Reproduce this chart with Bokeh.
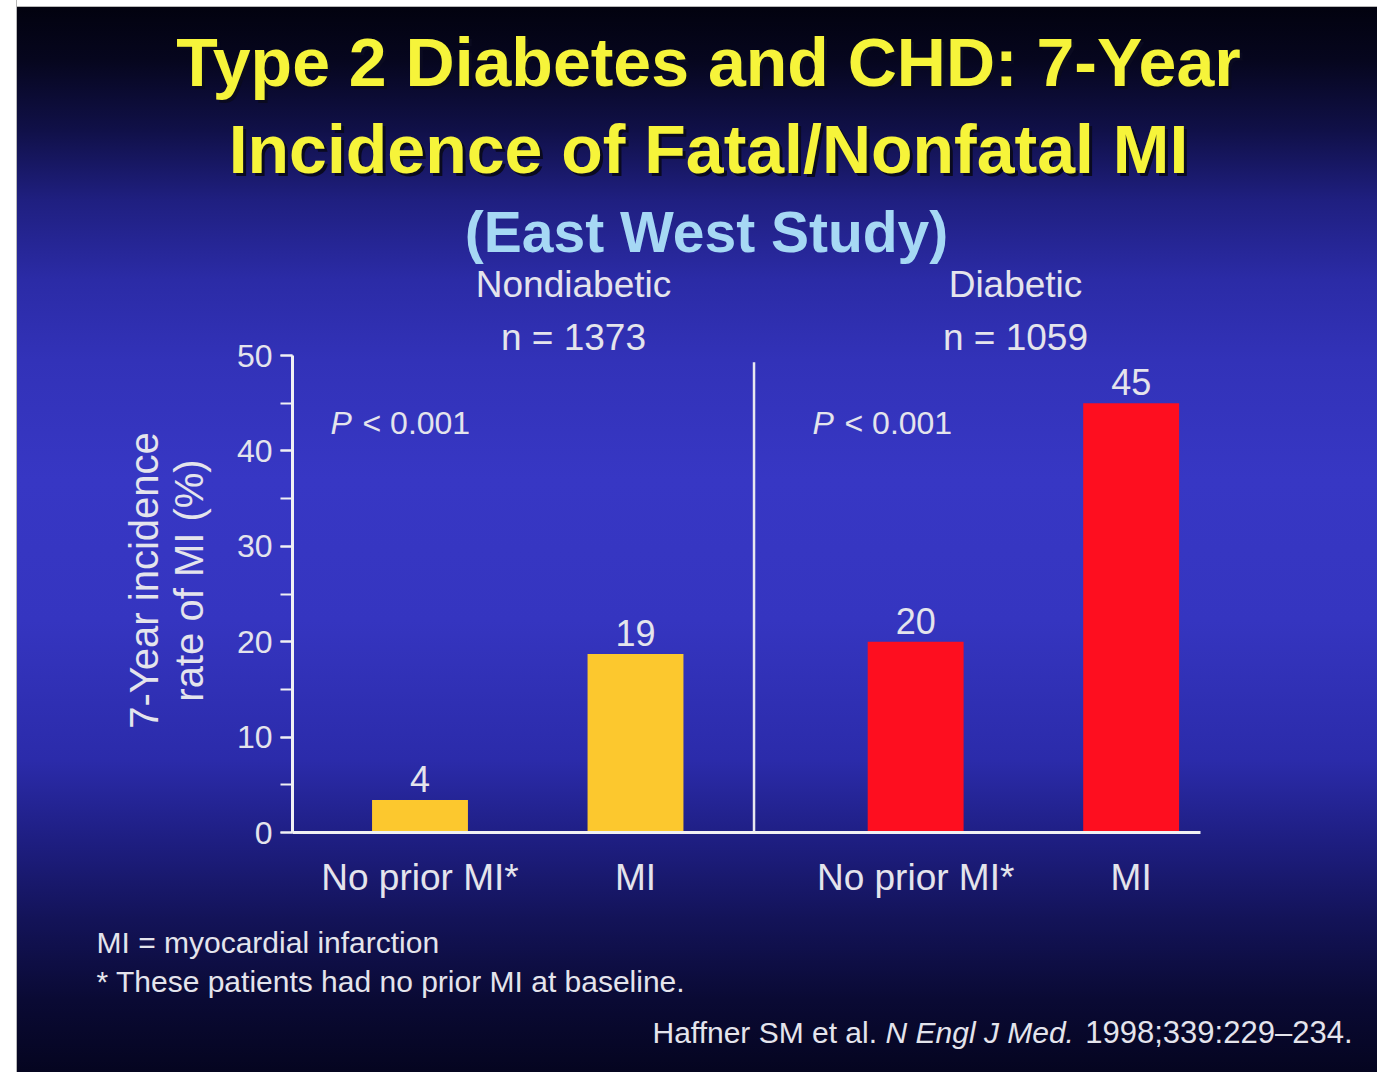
import numpy as np
from bokeh.plotting import figure
from bokeh.models import Range1d, SingleIntervalTicker, FixedTicker, LinearAxis, Label
from bokeh.embed import file_html
from bokeh.resources import INLINE
from bokeh.core.properties import value

# ---------------- data ----------------
groups = ["Nondiabetic", "Diabetic"]
group_n = ["n = 1373", "n = 1059"]
categories = ["No prior MI*", "MI"]
incidence = [3.4, 18.7, 20.0, 45.0]          # bar heights as drawn
incidence_labels = ["4", "19", "20", "45"]   # printed values
bar_colors = ["#fcc82e", "#fcc82e", "#fe0e1f", "#fe0e1f"]
p_text = ["< 0.001", "< 0.001"]

title_lines = ["Type 2 Diabetes and CHD: 7-Year", "Incidence of Fatal/Nonfatal MI"]
subtitle = "(East West Study)"
y_title = ["7-Year incidence", "rate of MI (%)"]
footnotes = ["MI = myocardial infarction", "* These patients had no prior MI at baseline."]
citation = ["Haffner SM et al.", "N Engl J Med.", "1998;339:229\u2013234."]

# ---------------- layout ----------------
FONT = "Liberation Sans"
TXT = "#e4e4ec"
W, H = 1377, 1072
Y_MAX = 50

CAT_STEP, GROUP_GAP, BAR_W = 1.0, 1.3, 0.445
n_cat = len(categories)
group_step = CAT_STEP * (n_cat - 1) + GROUP_GAP
x_pos = [gi * group_step + ci * CAT_STEP for gi in range(len(groups)) for ci in range(n_cat)]

# calibration of the scales on the canvas
U = 215.5        # px per x unit
X0_PX = 419.5    # canvas px of x = 0
KY = 9.54        # px per y unit
Y0_PX = 832.0    # canvas px of y = 0


def xd(px):
    return (px - X0_PX) / U


def yd(py):
    return (Y0_PX - py) / KY


x_range = Range1d(xd(0), xd(W))
y_range = Range1d(yd(H), yd(0))

p = figure(x_range=x_range, y_range=y_range, width=W, height=H,
           x_axis_type=None, y_axis_type=None,
           min_border_left=0, min_border_right=0, min_border_top=0, min_border_bottom=0,
           output_backend="svg", toolbar_location=None, title=None)

p.background_fill_color = None
p.border_fill_color = None
p.outline_line_color = None
p.grid.visible = False

grad = ("linear-gradient(to bottom, #02020f 7px, #06061e 60px, #101048 130px, #1f1f80 200px, "
        "#2b2ba6 280px, #3232b8 360px, #3737c4 480px, #3535c0 620px, #2b2baa 760px, "
        "#1e1e82 840px, #131358 920px, #0a0a34 1000px, #050520 1072px)")
edge_l = "linear-gradient(to right, #ffffff 0px, #ffffff 16px, #b8b8b8 16px, #b8b8b8 17px, rgba(0,0,0,0) 17px)"
edge_t = "linear-gradient(to bottom, #ffffff 0px, #ffffff 6px, #b8b8b8 6px, #b8b8b8 7px, rgba(0,0,0,0) 7px)"
p.styles = {"background-image": ", ".join([edge_l, edge_t, grad])}


def add_text(text, px, py, size, color=TXT, align="left", style="normal", angle=0.0):
    p.add_layout(Label(x=xd(px), y=yd(py), text=text, text_font=FONT,
                       text_font_size=f"{size}px", text_color=color, text_align=align,
                       text_baseline="middle", text_font_style=style, angle=angle))


# ---------------- bars ----------------
p.vbar(x=x_pos, top=incidence, width=BAR_W, bottom=0, fill_color=bar_colors,
       line_color=None)
p.text(x=x_pos, y=incidence, text=incidence_labels, y_offset=-21, text_align="center",
       text_baseline="middle", text_font=value(FONT), text_font_size="36px",
       text_color=TXT)

# divider between groups
div_x = (x_pos[n_cat - 1] + x_pos[n_cat]) / 2 - 0.1
p.segment(x0=[div_x], y0=[0], x1=[div_x], y1=[49.3], line_color="#e8e8f0", line_width=2.5)

# ---------------- axes ----------------
AX = "#f0f0f4"
ya = LinearAxis(fixed_location=xd(292), bounds=(0, Y_MAX),
                ticker=SingleIntervalTicker(interval=10, num_minor_ticks=2))
ya.axis_line_color = AX
ya.axis_line_width = 3
ya.major_tick_line_color = AX
ya.major_tick_line_width = 2
ya.major_tick_out = 12
ya.major_tick_in = 0
ya.minor_tick_line_color = AX
ya.minor_tick_line_width = 2
ya.minor_tick_out = 12
ya.minor_tick_in = 0
ya.major_label_standoff = 8
ya.major_label_text_font = FONT
ya.major_label_text_font_size = "32px"
ya.major_label_text_color = TXT
p.add_layout(ya, "left")

xa = LinearAxis(fixed_location=0, bounds=(xd(292), x_pos[-1] + BAR_W / 2 + 0.1),
                ticker=FixedTicker(ticks=x_pos),
                major_label_overrides={x: c for x, c in zip(x_pos, categories * len(groups))})
xa.axis_line_color = AX
xa.axis_line_width = 3
xa.major_tick_line_color = None
xa.major_tick_out = 0
xa.major_tick_in = 0
xa.minor_tick_line_color = None
xa.minor_tick_out = 0
xa.major_label_standoff = 24
xa.major_label_text_font = FONT
xa.major_label_text_font_size = "37px"
xa.major_label_text_color = TXT
p.add_layout(xa, "below")

# ---------------- texts ----------------
title_color = "#f6f43a"
for line, py in zip(title_lines, [61, 148]):
    add_text(line, 711, py + 3, 68, color="#0a0a20", align="center", style="bold")
    add_text(line, 708, py, 68, color=title_color, align="center", style="bold")
add_text(subtitle, 706, 231, 57, color="#a6d8f4", align="center", style="bold")

for g, n, cx in zip(groups, group_n, [573, 1015]):
    add_text(g, cx, 284, 37, align="center")
    add_text(n, cx, 337, 37, align="center")

for pt, px in zip(p_text, [330, 812]):
    add_text("P", px, 422, 32, style="italic")
    add_text(pt, px + 32, 422, 32)

for line, px in zip(y_title, [143, 188]):
    add_text(line, px, 580, 40, align="center", angle=np.pi / 2)

add_text(footnotes[0], 96, 942, 30)
add_text(footnotes[1], 96, 981, 30)

add_text(citation[0], 652, 1032, 30)
add_text(citation[1], 885, 1032, 30, style="italic")
add_text(citation[2], 1352, 1032, 31, align="right")

open("out.html", "w").write(file_html(p, INLINE))
